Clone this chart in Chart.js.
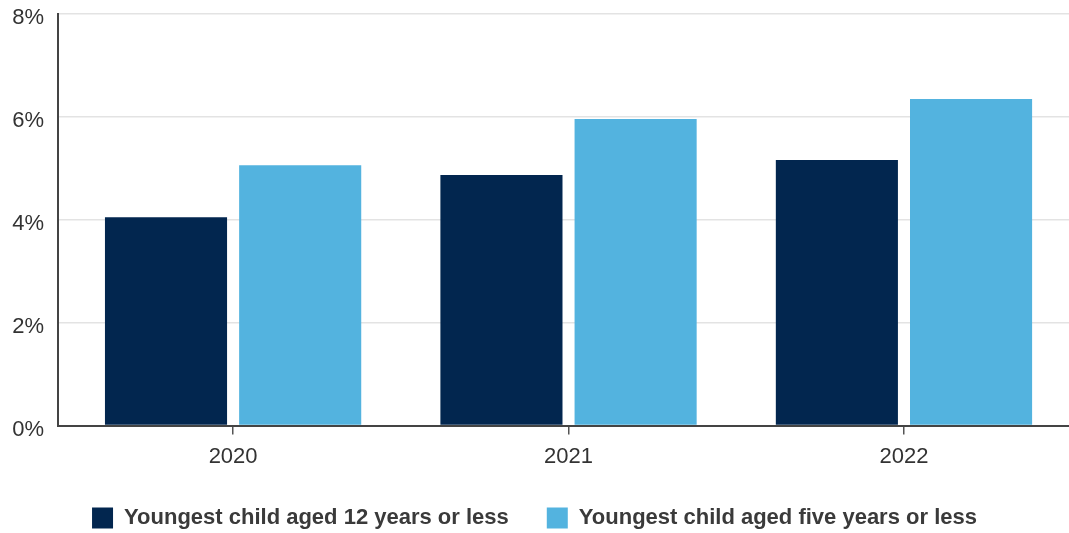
<!DOCTYPE html>
<html><head><meta charset="utf-8">
<script src="https://cdn.jsdelivr.net/npm/chart.js@4.4.1/dist/chart.umd.min.js"></script>
<style>html,body{margin:0;padding:0;background:#fff;overflow:hidden}#wrap{width:1069px;height:533px;position:relative}</style>
</head><body><div id="wrap"><canvas id="c"></canvas></div>
<script>
const years = [2020, 2021, 2022];
const series12 = [4.05, 4.87, 5.16];
const seriesFive = [5.06, 5.96, 6.35];
const seriesNames = ['Youngest child aged 12 years or less', 'Youngest child aged five years or less'];
const yTicks = [0, 2, 4, 6, 8];

const toPoints = arr => years.map((y, i) => ({x: y, y: arr[i]}));
const FONT = "'Liberation Sans', Arial, sans-serif";

new Chart(document.getElementById('c'), {
  type: 'bar',
  data: {
    datasets: [
      {label: seriesNames[0], data: toPoints(series12), backgroundColor: '#02264f', borderWidth: 0},
      {label: seriesNames[1], data: toPoints(seriesFive), backgroundColor: '#53b3df', borderWidth: 0}
    ]
  },
  options: {
    responsive: true, maintainAspectRatio: false, animation: false,
    categoryPercentage: 0.8, barPercentage: 0.91,
    layout: {padding: {top: 0, right: 0, left: 0, bottom: -6}},
    plugins: {
      tooltip: {enabled: false},
      legend: {
        position: 'bottom',
        labels: {
          color: '#3a3a3a', boxWidth: 21, boxHeight: 21, padding: 38,
          font: {family: FONT, size: 22, weight: 'bold'}
        }
      }
    },
    scales: {
      x: {
        type: 'linear', min: 2019.478, max: 2022.492, offset: false,
        afterBuildTicks: s => { s.ticks = years.map(v => ({value: v})); },
        afterFit: s => { s.height -= 10; },
        ticks: {color: '#333', font: {family: FONT, size: 22}, padding: 9, callback: v => String(v)},
        grid: {offset: false, drawOnChartArea: false, drawTicks: true, tickLength: 9, color: '#555', lineWidth: 1.5},
        border: {display: true, color: '#444', width: 2}
      },
      y: {
        min: 0, max: 8,
        afterBuildTicks: s => { s.ticks = yTicks.map(v => ({value: v})); },
        afterFit: s => { s.width = 58; s.paddingTop = 14; },
        ticks: {color: '#333', font: {family: FONT, size: 22}, padding: 14, labelOffset: 4, callback: v => v + '%'},
        grid: {color: '#e3e3e3', lineWidth: 1.5, drawTicks: false},
        border: {display: true, color: '#444', width: 2}
      }
    }
  }
});
</script></body></html>
